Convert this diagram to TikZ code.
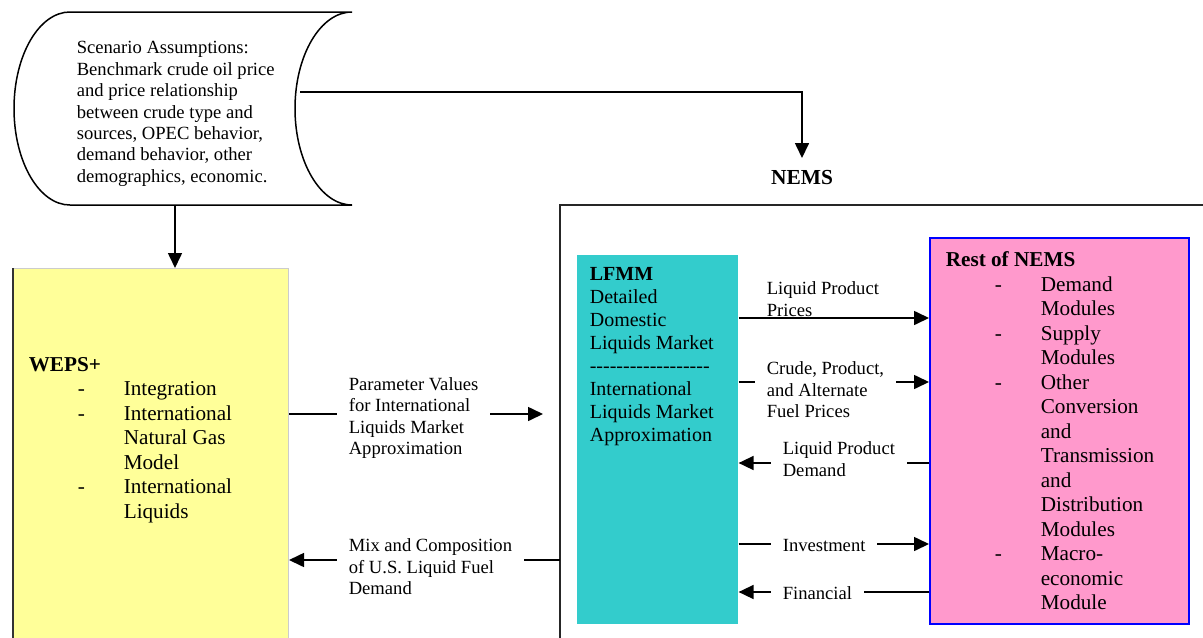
\documentclass[tikz,border=0pt]{standalone}
\usepackage{fontspec}
\setmainfont{Liberation Serif}
\usetikzlibrary{arrows.meta}
\definecolor{wepsyellow}{HTML}{FFFF99}
\definecolor{lfmmteal}{HTML}{33CCCC}
\definecolor{restpink}{HTML}{FF99CC}
\newcommand{\dashitem}{\hspace*{24.5pt}\makebox[23pt][l]{-}}
\newcommand{\dashcont}{\hspace*{47.5pt}}

\begin{document}
\begin{tikzpicture}[x=0.5pt, y=-0.5pt, line width=0.8pt,
	arr/.style={-{Triangle[length=7.5pt,width=7pt]}},
	box/.style={rectangle, anchor=north west, inner sep=0pt},
	lbl/.style={anchor=west, align=left, fill=white, inner xsep=6pt, inner ysep=1pt, font=\fontsize{9.3}{10.7}\selectfont},
	big/.style={anchor=west, align=left, inner sep=0pt, font=\fontsize{10.6}{12.25}\selectfont}]
	
	\useasboundingbox (0,0) rectangle (1203,637);
	\clip (0,0) rectangle (1203,637);
	
	\draw[line width=0.75pt] (70,12) -- (352,12) arc[start angle=-90, end angle=-270, x radius=57, y radius=96.5] -- (70,205) arc[start angle=90, end angle=270, x radius=56, y radius=96.5];
	\node[lbl, fill=none, inner xsep=0pt] (scen) at (76,114) {Scenario Assumptions:\\Benchmark crude oil price\\and price relationship\\between crude type and\\sources, OPEC behavior,\\demand behavior, other\\demographics, economic.};
	
	\draw[black!85, line width=0.9pt] (560,660) |- (1220,205);
	\node[font=\fontsize{10.7}{12}\selectfont\bfseries, inner sep=6pt] (nems) at (802,178) {NEMS};
	
	\node[box, fill=wepsyellow, draw=black!20, line width=0.5pt, minimum width=137.5pt, minimum height=200pt] (weps) at (13,268) {};
	\draw[black!80, line width=0.6pt] (weps.north west) -- (weps.south west);
	\node[box, fill=lfmmteal, minimum width=80.5pt, minimum height=184.5pt] (lfmm) at (576,254) {};
	\node[box, fill=restpink, draw=blue, line width=1pt, minimum width=129.5pt, minimum height=193pt] (rest) at (929,237) {};
	
	\coordinate (scroll-s) at (175,205);
	\coordinate (scroll-e) at (300,92);
	\coordinate (lfmm-in) at (543,414);
	\coordinate (frame-w) at (560,560);
	
	\draw[arr] (scroll-s) -- (scroll-s |- weps.north);
	\draw[arr] (scroll-e) -| (nems.north);
	\draw[arr] (weps.east |- lfmm-in) -- (lfmm-in);
	\draw[arr] (frame-w) -- (weps.east |- frame-w);
	\draw[arr] (lfmm.east |- 0,318) -- (rest.west |- 0,318);
	\draw[arr] (lfmm.east |- 0,382) -- (rest.west |- 0,382);
	\draw[arr] (rest.west |- 0,463) -- (lfmm.east |- 0,463);
	\draw[arr] (lfmm.east |- 0,544) -- (rest.west |- 0,544);
	\draw[arr] (rest.west |- 0,592) -- (lfmm.east |- 0,592);
	
	\node[lbl] (pv) at (336,418) {Parameter Values\\for International\\Liquids Market\\Approximation};
	\node[lbl] (mix) at (336,567) {Mix and Composition\\of U.S. Liquid Fuel\\Demand};
	\node[lbl, fill=none] (lpp) at (754,299) {Liquid Product\\Prices};
	\node[lbl] (cpa) at (754,390) {Crude, Product,\\and Alternate\\Fuel Prices};
	\node[lbl] (lpd) at (770,459) {Liquid Product\\Demand};
	\node[lbl] (inv) at (770,545) {Investment};
	\node[lbl] (fin) at (770,593) {Financial};
	
	\node[big] (wepstxt) at (28,440) {\textbf{WEPS+}\\\dashitem Integration\\\dashitem International\\\dashcont Natural Gas\\\dashcont Model\\\dashitem International\\\dashcont Liquids};
	\node[big, font=\fontsize{10}{11.5}\selectfont] (lfmmtxt) at (589,357) {\textbf{LFMM}\\Detailed\\Domestic\\Liquids Market\\\foreach \i in {1,...,18}{\mbox{-}}\\International\\Liquids Market\\Approximation};
	\node[big] (resttxt) at (945,431) {\textbf{Rest of NEMS}\\\dashitem Demand\\\dashcont Modules\\\dashitem Supply\\\dashcont Modules\\\dashitem Other\\\dashcont Conversion\\\dashcont and\\\dashcont Transmission\\\dashcont and\\\dashcont Distribution\\\dashcont Modules\\\dashitem Macro-\\\dashcont economic\\\dashcont Module};
\end{tikzpicture}
\end{document}
